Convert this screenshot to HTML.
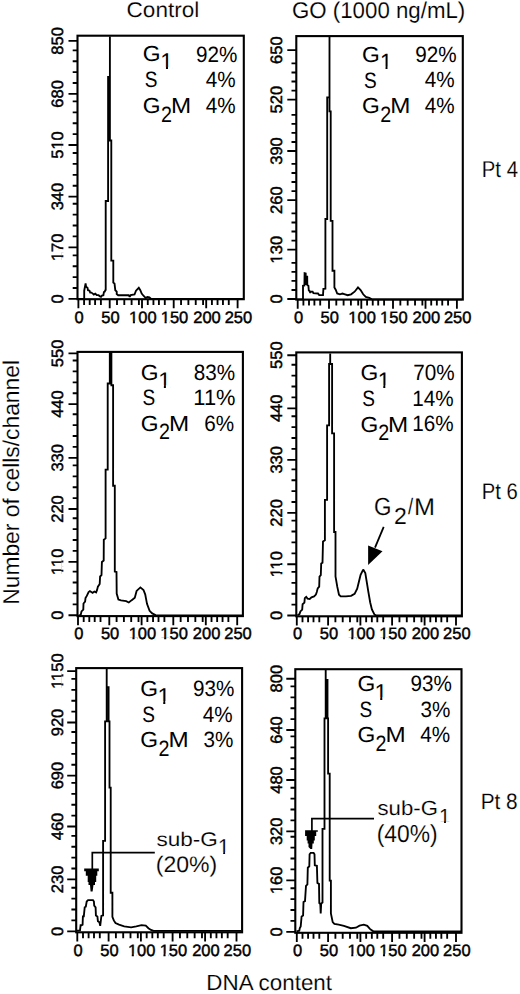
<!DOCTYPE html>
<html><head><meta charset="utf-8"><style>
html,body{margin:0;padding:0;background:#fff;width:520px;height:994px;overflow:hidden}
svg{display:block}
</style></head><body>
<svg width="520" height="994" viewBox="0 0 520 994">
<style>
text{font-family:"Liberation Sans", sans-serif;fill:#000;text-rendering:geometricPrecision}
.ax{font-size:16.5px;stroke:#000;stroke-width:0.45px}
</style>
<rect width="520" height="994" fill="#fff"/>
<path d="M78 299 L84.2 299 L84.2 290.7 L85.6 283.5 L86.1 286.8 L87.5 287.8 L88 290.2 L89.5 290.7 L90.2 292.6 L91.4 292.6 L92.8 293.6 L93.8 294.5 L95.2 293.6 L96.7 295 L98.6 295.2 L100 296.4 L101 296.9 L102 295.5 L103.4 295.2 L103.9 292.1 L104.8 291.6 L105.3 290.2 L105.7 290 L105.7 201 L108.1 201 L108.1 77 L109.9 77 L109.9 36.5 L109.9 140.5 L111.3 140.5 L111.3 260.6 L113.3 260.6 L113.3 282.5 L114.5 283.5 L115.3 290.2 L116.7 291.6 L116.7 294 L118.2 295.2 L128.75 295.2 L129.7 296.9 L130.7 295.2 L134.5 294.5 L136 290.7 L138.8 287.8 L140.3 290.2 L141.7 293.6 L143.7 296 L145.6 297.9 L147.5 296.9 L149.4 297.3 L150.4 298.4 L151.5 299 L243 299" stroke="#000" stroke-width="1.85" fill="none" stroke-linejoin="miter" stroke-miterlimit="2"/>
<rect x="77.5" y="35.7" width="166.3" height="263.5" fill="none" stroke="#000" stroke-width="2.1"/>
<path d="M68.5 298.9H77.5M72.7 288H77.5M72.7 277.1H77.5M72.7 266.2H77.5M72.7 255.3H77.5M68.5 247.3H77.5M72.7 236.4H77.5M72.7 225.5H77.5M72.7 214.6H77.5M72.7 203.7H77.5M68.5 196.6H77.5M72.7 185.7H77.5M72.7 174.8H77.5M72.7 163.9H77.5M72.7 153H77.5M68.5 145H77.5M72.7 134.1H77.5M72.7 123.2H77.5M72.7 112.3H77.5M72.7 101.4H77.5M68.5 93.9H77.5M72.7 83H77.5M72.7 72.1H77.5M72.7 61.2H77.5M72.7 50.3H77.5M68.5 40.9H77.5" stroke="#000" stroke-width="1.85" fill="none"/>
<text x="63.3" y="298.9" transform="rotate(-90 63.3 298.9)" text-anchor="middle" class="ax">0</text>
<text x="63.3" y="247.3" transform="rotate(-90 63.3 247.3)" text-anchor="middle" class="ax">170</text>
<path d="M49.37 245.27H53.36V248.6H49.37ZM55.45 245.27H58.45V248.6H55.45Z" fill="#fff" transform="rotate(-90 63.3 247.3)"/>
<text x="63.3" y="196.6" transform="rotate(-90 63.3 196.6)" text-anchor="middle" class="ax">340</text>
<text x="63.3" y="145" transform="rotate(-90 63.3 145)" text-anchor="middle" class="ax">510</text>
<path d="M58.55 142.97H62.54V146.3H58.55ZM64.62 142.97H67.62V146.3H64.62Z" fill="#fff" transform="rotate(-90 63.3 145)"/>
<text x="63.3" y="93.9" transform="rotate(-90 63.3 93.9)" text-anchor="middle" class="ax">680</text>
<text x="63.3" y="40.9" transform="rotate(-90 63.3 40.9)" text-anchor="middle" class="ax">850</text>
<path d="M78.4 299.2V308.3M84.1 299.2V305.1M89.7 299.2V305.1M95.1 299.2V305.1M100.9 299.2V305.1M109.7 299.2V308.3M117 299.2V305.1M124.3 299.2V305.1M131.6 299.2V305.1M138.9 299.2V305.1M142 299.2V308.3M147.77 299.2V305.1M153.44 299.2V305.1M158.91 299.2V305.1M164.79 299.2V305.1M173.7 299.2V308.3M181.05 299.2V305.1M188.39 299.2V305.1M195.74 299.2V305.1M203.08 299.2V305.1M206.2 299.2V308.3M211.92 299.2V305.1M217.54 299.2V305.1M222.95 299.2V305.1M228.77 299.2V305.1M237.6 299.2V308.3" stroke="#000" stroke-width="1.85" fill="none"/>
<text x="79.2" y="323.1" text-anchor="middle" class="ax">0</text>
<text x="110.5" y="323.1" text-anchor="middle" class="ax">50</text>
<text x="142.8" y="323.1" text-anchor="middle" class="ax">100</text>
<path d="M128.87 321.07H132.86V324.4H128.87ZM134.95 321.07H137.95V324.4H134.95Z" fill="#fff"/>
<text x="174.5" y="323.1" text-anchor="middle" class="ax">150</text>
<path d="M160.57 321.07H164.56V324.4H160.57ZM166.65 321.07H169.65V324.4H166.65Z" fill="#fff"/>
<text x="207" y="323.1" text-anchor="middle" class="ax">200</text>
<text x="238.4" y="323.1" text-anchor="middle" class="ax">250</text>
<path d="M297 299.3 L303 299.3 L303 285.8 L304.4 285.5 L304.6 273.2 L305.7 273.5 L305.8 284 L306.5 284 L306.5 276.6 L307.2 276.6 L307.3 285 L308.4 285.8 L308.8 290.5 L309.5 290.9 L310.3 292.8 L311.1 291.6 L312.6 291.6 L313.4 293.2 L318 293.5 L319.2 295.1 L323 295.1 L323.4 288.9 L325.4 288.7 L325.4 219 L327.2 219 L327.2 97.3 L329.5 97.3 L329.5 37 L329.5 111.4 L330.7 111.4 L330.7 220.8 L332.5 220.8 L332.5 270.7 L334.4 270.7 L334.4 287.4 L335.7 289.7 L337.2 293.5 L339.9 294.3 L342.5 293.5 L345 294.3 L347.7 295.2 L351.1 294.3 L354.6 291.7 L358 287.4 L360.6 290 L363.2 294.3 L365.8 297 L369.3 297.8 L371.9 299.3 L462 299.3" stroke="#000" stroke-width="1.85" fill="none" stroke-linejoin="miter" stroke-miterlimit="2"/>
<rect x="296.3" y="36.1" width="166.5" height="263.5" fill="none" stroke="#000" stroke-width="2.1"/>
<path d="M287.3 299H296.3M291.5 289.95H296.3M291.5 280.9H296.3M291.5 271.85H296.3M291.5 262.8H296.3M287.3 249.6H296.3M291.5 240.55H296.3M291.5 231.5H296.3M291.5 222.45H296.3M291.5 213.4H296.3M287.3 200.1H296.3M291.5 191.05H296.3M291.5 182H296.3M291.5 172.95H296.3M291.5 163.9H296.3M287.3 151H296.3M291.5 141.95H296.3M291.5 132.9H296.3M291.5 123.85H296.3M291.5 114.8H296.3M287.3 99.6H296.3M291.5 90.55H296.3M291.5 81.5H296.3M291.5 72.45H296.3M291.5 63.4H296.3M287.3 50.1H296.3" stroke="#000" stroke-width="1.85" fill="none"/>
<text x="281.9" y="299" transform="rotate(-90 281.9 299)" text-anchor="middle" class="ax">0</text>
<text x="281.9" y="249.6" transform="rotate(-90 281.9 249.6)" text-anchor="middle" class="ax">130</text>
<path d="M267.97 247.57H271.96V250.9H267.97ZM274.05 247.57H277.05V250.9H274.05Z" fill="#fff" transform="rotate(-90 281.9 249.6)"/>
<text x="281.9" y="200.1" transform="rotate(-90 281.9 200.1)" text-anchor="middle" class="ax">260</text>
<text x="281.9" y="151" transform="rotate(-90 281.9 151)" text-anchor="middle" class="ax">390</text>
<text x="281.9" y="99.6" transform="rotate(-90 281.9 99.6)" text-anchor="middle" class="ax">520</text>
<text x="281.9" y="50.1" transform="rotate(-90 281.9 50.1)" text-anchor="middle" class="ax">650</text>
<path d="M297.7 299.6V308.7M303.4 299.6V305.5M309 299.6V305.5M314.4 299.6V305.5M320.2 299.6V305.5M329 299.6V308.7M336.3 299.6V305.5M343.6 299.6V305.5M350.9 299.6V305.5M358.2 299.6V305.5M361.3 299.6V308.7M367.07 299.6V305.5M372.74 299.6V305.5M378.21 299.6V305.5M384.09 299.6V305.5M393 299.6V308.7M400.35 299.6V305.5M407.69 299.6V305.5M415.04 299.6V305.5M422.38 299.6V305.5M425.5 299.6V308.7M431.22 299.6V305.5M436.84 299.6V305.5M442.25 299.6V305.5M448.07 299.6V305.5M456.9 299.6V308.7" stroke="#000" stroke-width="1.85" fill="none"/>
<text x="298.5" y="323.1" text-anchor="middle" class="ax">0</text>
<text x="329.8" y="323.1" text-anchor="middle" class="ax">50</text>
<text x="362.1" y="323.1" text-anchor="middle" class="ax">100</text>
<path d="M348.17 321.07H352.16V324.4H348.17ZM354.25 321.07H357.25V324.4H354.25Z" fill="#fff"/>
<text x="393.8" y="323.1" text-anchor="middle" class="ax">150</text>
<path d="M379.87 321.07H383.86V324.4H379.87ZM385.95 321.07H388.95V324.4H385.95Z" fill="#fff"/>
<text x="426.3" y="323.1" text-anchor="middle" class="ax">200</text>
<text x="457.7" y="323.1" text-anchor="middle" class="ax">250</text>
<path d="M78.5 615.6 L80.7 615 L81.5 611.4 L83.3 609.6 L83.5 603.5 L85.1 601.7 L85.5 598.1 L86.8 595.9 L88.6 592 L89.9 591.1 L91.3 592 L92.6 592.8 L94.4 591.5 L96.1 592.4 L97 590.2 L97.9 586.6 L99.7 584 L100.1 576.5 L101.5 575.1 L101.9 561.9 L103.7 560.5 L103.8 539.7 L105.6 538.4 L105.6 469.6 L107.7 469.6 L107.7 383.5 L109.8 383.5 L109.8 353 L111.4 353 L111.4 385.2 L113.1 385.2 L113.1 485.7 L114.8 485.7 L114.8 571.6 L116.5 572 L116.7 593.5 L118.4 599.5 L121 600.4 L126.2 601.2 L128.8 602.5 L131.4 600.4 L134.8 597.8 L136.6 590.9 L140.4 587.4 L143.5 590 L145.2 594.3 L147 603.8 L149.6 610.8 L152.2 613.4 L155.6 615.1 L242 615.3" stroke="#000" stroke-width="1.85" fill="none" stroke-linejoin="miter" stroke-miterlimit="2"/>
<rect x="77.5" y="351.9" width="165.4" height="264.2" fill="none" stroke="#000" stroke-width="2.1"/>
<path d="M68.5 615.2H77.5M72.7 604.3H77.5M72.7 593.4H77.5M72.7 582.5H77.5M72.7 571.6H77.5M68.5 561.8H77.5M72.7 550.9H77.5M72.7 540H77.5M72.7 529.1H77.5M72.7 518.2H77.5M68.5 509H77.5M72.7 498.1H77.5M72.7 487.2H77.5M72.7 476.3H77.5M72.7 465.4H77.5M68.5 457.8H77.5M72.7 446.9H77.5M72.7 436H77.5M72.7 425.1H77.5M72.7 414.2H77.5M68.5 404.1H77.5M72.7 393.2H77.5M72.7 382.3H77.5M72.7 371.4H77.5M72.7 360.5H77.5M68.5 353.4H77.5" stroke="#000" stroke-width="1.85" fill="none"/>
<text x="63.3" y="615.2" transform="rotate(-90 63.3 615.2)" text-anchor="middle" class="ax">0</text>
<text x="63.3" y="561.8" transform="rotate(-90 63.3 561.8)" text-anchor="middle" class="ax">110</text>
<path d="M49.37 559.77H53.36V563.1H49.37ZM55.45 559.77H58.45V563.1H55.45ZM58.55 559.77H62.54V563.1H58.55ZM64.62 559.77H67.62V563.1H64.62Z" fill="#fff" transform="rotate(-90 63.3 561.8)"/>
<text x="63.3" y="509" transform="rotate(-90 63.3 509)" text-anchor="middle" class="ax">220</text>
<text x="63.3" y="457.8" transform="rotate(-90 63.3 457.8)" text-anchor="middle" class="ax">330</text>
<text x="63.3" y="404.1" transform="rotate(-90 63.3 404.1)" text-anchor="middle" class="ax">440</text>
<text x="63.3" y="353.4" transform="rotate(-90 63.3 353.4)" text-anchor="middle" class="ax">550</text>
<path d="M78 616.1V625.2M83.7 616.1V622M89.3 616.1V622M94.7 616.1V622M100.5 616.1V622M109.3 616.1V625.2M116.6 616.1V622M123.9 616.1V622M131.2 616.1V622M138.5 616.1V622M141.6 616.1V625.2M147.37 616.1V622M153.04 616.1V622M158.51 616.1V622M164.39 616.1V622M173.3 616.1V625.2M180.65 616.1V622M187.99 616.1V622M195.34 616.1V622M202.68 616.1V622M205.8 616.1V625.2M211.52 616.1V622M217.14 616.1V622M222.55 616.1V622M228.37 616.1V622M237.2 616.1V625.2" stroke="#000" stroke-width="1.85" fill="none"/>
<text x="78.8" y="639.3" text-anchor="middle" class="ax">0</text>
<text x="110.1" y="639.3" text-anchor="middle" class="ax">50</text>
<text x="142.4" y="639.3" text-anchor="middle" class="ax">100</text>
<path d="M128.47 637.27H132.46V640.6H128.47ZM134.55 637.27H137.55V640.6H134.55Z" fill="#fff"/>
<text x="174.1" y="639.3" text-anchor="middle" class="ax">150</text>
<path d="M160.17 637.27H164.16V640.6H160.17ZM166.25 637.27H169.25V640.6H166.25Z" fill="#fff"/>
<text x="206.6" y="639.3" text-anchor="middle" class="ax">200</text>
<text x="238" y="639.3" text-anchor="middle" class="ax">250</text>
<path d="M297.5 615.3 L299.5 614.1 L300.4 611.4 L302.2 609.6 L302.6 604.3 L304.4 602.6 L304.8 598.1 L306.2 596.8 L307.5 598.6 L309.7 599 L311.5 597.3 L314.1 596.4 L315.9 594.6 L316.8 592 L317.7 588.4 L319.2 586.6 L319.5 576.5 L320.8 575.1 L321.2 563.6 L322.5 562.7 L323 541.5 L324.9 540.2 L324.9 499.8 L327.1 499.8 L327.1 425.4 L329.1 425.4 L329.1 364 L330.2 364 L330.2 353.5 L330.2 364 L332.1 364 L332.1 433.4 L334.1 433.4 L334.1 532 L335.5 532 L335.5 576.5 L337.3 586.9 L339 594.7 L340.7 596.4 L345.9 596.4 L351.1 595.9 L354.6 593.8 L357.2 588.6 L358.9 581.7 L360.6 574.8 L363.2 569.6 L365.3 573.1 L366.7 581.7 L368.4 592.1 L370.2 602.5 L371.9 609.4 L374.5 614.6 L376 615.3 L461.5 615.3" stroke="#000" stroke-width="1.85" fill="none" stroke-linejoin="miter" stroke-miterlimit="2"/>
<rect x="296.3" y="352.4" width="165.6" height="263.9" fill="none" stroke="#000" stroke-width="2.1"/>
<path d="M287.3 615.5H296.3M291.5 604.6H296.3M291.5 593.7H296.3M291.5 582.8H296.3M291.5 571.9H296.3M287.3 564.2H296.3M291.5 553.3H296.3M291.5 542.4H296.3M291.5 531.5H296.3M291.5 520.6H296.3M287.3 512.9H296.3M291.5 502H296.3M291.5 491.1H296.3M291.5 480.2H296.3M291.5 469.3H296.3M287.3 459.8H296.3M291.5 448.9H296.3M291.5 438H296.3M291.5 427.1H296.3M291.5 416.2H296.3M287.3 408.3H296.3M291.5 397.4H296.3M291.5 386.5H296.3M291.5 375.6H296.3M291.5 364.7H296.3M287.3 355.2H296.3" stroke="#000" stroke-width="1.85" fill="none"/>
<text x="281.9" y="615.5" transform="rotate(-90 281.9 615.5)" text-anchor="middle" class="ax">0</text>
<text x="281.9" y="564.2" transform="rotate(-90 281.9 564.2)" text-anchor="middle" class="ax">110</text>
<path d="M267.97 562.17H271.96V565.5H267.97ZM274.05 562.17H277.05V565.5H274.05ZM277.15 562.17H281.14V565.5H277.15ZM283.22 562.17H286.22V565.5H283.22Z" fill="#fff" transform="rotate(-90 281.9 564.2)"/>
<text x="281.9" y="512.9" transform="rotate(-90 281.9 512.9)" text-anchor="middle" class="ax">220</text>
<text x="281.9" y="459.8" transform="rotate(-90 281.9 459.8)" text-anchor="middle" class="ax">330</text>
<text x="281.9" y="408.3" transform="rotate(-90 281.9 408.3)" text-anchor="middle" class="ax">440</text>
<text x="281.9" y="355.2" transform="rotate(-90 281.9 355.2)" text-anchor="middle" class="ax">550</text>
<path d="M296.8 616.3V625.4M302.5 616.3V622.2M308.1 616.3V622.2M313.5 616.3V622.2M319.3 616.3V622.2M328.1 616.3V625.4M335.4 616.3V622.2M342.7 616.3V622.2M350 616.3V622.2M357.3 616.3V622.2M360.4 616.3V625.4M366.17 616.3V622.2M371.84 616.3V622.2M377.31 616.3V622.2M383.19 616.3V622.2M392.1 616.3V625.4M399.45 616.3V622.2M406.79 616.3V622.2M414.14 616.3V622.2M421.48 616.3V622.2M424.6 616.3V625.4M430.32 616.3V622.2M435.94 616.3V622.2M441.35 616.3V622.2M447.17 616.3V622.2M456 616.3V625.4" stroke="#000" stroke-width="1.85" fill="none"/>
<text x="297.6" y="639.3" text-anchor="middle" class="ax">0</text>
<text x="328.9" y="639.3" text-anchor="middle" class="ax">50</text>
<text x="361.2" y="639.3" text-anchor="middle" class="ax">100</text>
<path d="M347.27 637.27H351.26V640.6H347.27ZM353.35 637.27H356.35V640.6H353.35Z" fill="#fff"/>
<text x="392.9" y="639.3" text-anchor="middle" class="ax">150</text>
<path d="M378.97 637.27H382.96V640.6H378.97ZM385.05 637.27H388.05V640.6H385.05Z" fill="#fff"/>
<text x="425.4" y="639.3" text-anchor="middle" class="ax">200</text>
<text x="456.8" y="639.3" text-anchor="middle" class="ax">250</text>
<path d="M77 930.6 L80 930.4 L80.6 925.2 L81.5 925.2 L82.6 924.6 L82.9 916.3 L83.8 916.3 L84.7 907.3 L85.8 906.7 L86.7 901.5 L87.8 900.4 L88.1 900.1 L93 900.1 L93.9 901.5 L94.2 905.6 L95.6 907.3 L95.9 915.4 L97.4 916.5 L97.9 921.2 L99.4 922.3 L100.2 925.8 L101.4 916 L102.8 915.4 L103.1 915.4 L103.1 840.9 L105.1 840.9 L105.1 721.3 L106.7 721.3 L106.7 669 L106.7 687.1 L108.6 687.1 L108.6 721.3 L109.5 721.3 L109.5 787.6 L110.7 787.6 L110.7 892.7 L112.4 892.7 L112.4 916.9 L113.8 920.4 L115.5 923 L119 924.7 L124.2 926.4 L131.1 927.3 L136.3 926.4 L141.5 925.2 L145.8 925.6 L148.4 928.2 L151 929.9 L153.6 930.8 L241 930.8" stroke="#000" stroke-width="1.85" fill="none" stroke-linejoin="miter" stroke-miterlimit="2"/>
<rect x="76.2" y="668.1" width="165.9" height="264.2" fill="none" stroke="#000" stroke-width="2.1"/>
<path d="M67.2 931.3H76.2M71.4 920.4H76.2M71.4 909.5H76.2M71.4 898.6H76.2M71.4 887.7H76.2M67.2 879.4H76.2M71.4 868.5H76.2M71.4 857.6H76.2M71.4 846.7H76.2M71.4 835.8H76.2M67.2 826.5H76.2M71.4 815.6H76.2M71.4 804.7H76.2M71.4 793.8H76.2M71.4 782.9H76.2M67.2 775.6H76.2M71.4 764.7H76.2M71.4 753.8H76.2M71.4 742.9H76.2M71.4 732H76.2M67.2 722.5H76.2M71.4 711.6H76.2M71.4 700.7H76.2M71.4 689.8H76.2M71.4 678.9H76.2M67.2 671.1H76.2" stroke="#000" stroke-width="1.85" fill="none"/>
<text x="63.3" y="931.3" transform="rotate(-90 63.3 931.3)" text-anchor="middle" class="ax">0</text>
<text x="63.3" y="879.4" transform="rotate(-90 63.3 879.4)" text-anchor="middle" class="ax">230</text>
<text x="63.3" y="826.5" transform="rotate(-90 63.3 826.5)" text-anchor="middle" class="ax">460</text>
<text x="63.3" y="775.6" transform="rotate(-90 63.3 775.6)" text-anchor="middle" class="ax">690</text>
<text x="63.3" y="722.5" transform="rotate(-90 63.3 722.5)" text-anchor="middle" class="ax">920</text>
<text x="63.3" y="671.1" transform="rotate(-90 63.3 671.1)" text-anchor="middle" class="ax">1150</text>
<path d="M44.79 669.07H48.78V672.4H44.79ZM50.86 669.07H53.86V672.4H50.86ZM53.96 669.07H57.95V672.4H53.96ZM60.04 669.07H63.04V672.4H60.04Z" fill="#fff" transform="rotate(-90 63.3 671.1)"/>
<path d="M77.3 932.3V941.4M83 932.3V938.2M88.6 932.3V938.2M94 932.3V938.2M99.8 932.3V938.2M108.6 932.3V941.4M115.9 932.3V938.2M123.2 932.3V938.2M130.5 932.3V938.2M137.8 932.3V938.2M140.9 932.3V941.4M146.67 932.3V938.2M152.34 932.3V938.2M157.81 932.3V938.2M163.69 932.3V938.2M172.6 932.3V941.4M179.95 932.3V938.2M187.29 932.3V938.2M194.64 932.3V938.2M201.98 932.3V938.2M205.1 932.3V941.4M210.82 932.3V938.2M216.44 932.3V938.2M221.85 932.3V938.2M227.67 932.3V938.2M236.5 932.3V941.4" stroke="#000" stroke-width="1.85" fill="none"/>
<text x="78.1" y="955.7" text-anchor="middle" class="ax">0</text>
<text x="109.4" y="955.7" text-anchor="middle" class="ax">50</text>
<text x="141.7" y="955.7" text-anchor="middle" class="ax">100</text>
<path d="M127.77 953.67H131.76V957H127.77ZM133.85 953.67H136.85V957H133.85Z" fill="#fff"/>
<text x="173.4" y="955.7" text-anchor="middle" class="ax">150</text>
<path d="M159.47 953.67H163.46V957H159.47ZM165.55 953.67H168.55V957H165.55Z" fill="#fff"/>
<text x="205.9" y="955.7" text-anchor="middle" class="ax">200</text>
<text x="237.3" y="955.7" text-anchor="middle" class="ax">250</text>
<path d="M296.5 931.3 L299.3 930.7 L299.8 928 L300.7 926.4 L301.6 916.4 L303.1 915.4 L303.5 902 L305 901.1 L306 885.8 L307.4 884.4 L307.8 867.7 L309.3 866.3 L309.6 854.3 L310.7 852.9 L313.6 852.9 L314.5 854.3 L314.8 865.3 L316.9 865.8 L317.4 883 L319 883.9 L319.3 903 L320.3 904 L320.7 913.5 L321.2 903.5 L322.5 902.5 L322.5 828.8 L324.5 828.8 L324.5 718.3 L325.7 718.3 L325.7 670 L325.7 680 L327.5 680 L327.5 718.3 L328.1 718.3 L328.1 773.6 L329.7 773.6 L329.7 880.6 L330.9 880.6 L330.9 913.5 L332.7 922.1 L334.4 923.8 L338.7 924.7 L343.9 925.9 L350.8 928.2 L356 927.7 L359.5 925.6 L363.8 924.7 L367.3 925.9 L369.9 928.9 L372.5 930.8 L374 931.3 L461 931.3" stroke="#000" stroke-width="1.85" fill="none" stroke-linejoin="miter" stroke-miterlimit="2"/>
<rect x="295.3" y="669.2" width="166.2" height="263.6" fill="none" stroke="#000" stroke-width="2.1"/>
<path d="M286.3 931.8H295.3M290.5 920.9H295.3M290.5 910H295.3M290.5 899.1H295.3M290.5 888.2H295.3M286.3 880.3H295.3M290.5 869.4H295.3M290.5 858.5H295.3M290.5 847.6H295.3M290.5 836.7H295.3M286.3 831.3H295.3M290.5 820.4H295.3M290.5 809.5H295.3M290.5 798.6H295.3M290.5 787.7H295.3M286.3 780H295.3M290.5 769.1H295.3M290.5 758.2H295.3M290.5 747.3H295.3M290.5 736.4H295.3M286.3 730H295.3M290.5 719.1H295.3M290.5 708.2H295.3M290.5 697.3H295.3M290.5 686.4H295.3M286.3 678.7H295.3" stroke="#000" stroke-width="1.85" fill="none"/>
<text x="281.9" y="931.8" transform="rotate(-90 281.9 931.8)" text-anchor="middle" class="ax">0</text>
<text x="281.9" y="880.3" transform="rotate(-90 281.9 880.3)" text-anchor="middle" class="ax">160</text>
<path d="M267.97 878.27H271.96V881.6H267.97ZM274.05 878.27H277.05V881.6H274.05Z" fill="#fff" transform="rotate(-90 281.9 880.3)"/>
<text x="281.9" y="831.3" transform="rotate(-90 281.9 831.3)" text-anchor="middle" class="ax">320</text>
<text x="281.9" y="780" transform="rotate(-90 281.9 780)" text-anchor="middle" class="ax">480</text>
<text x="281.9" y="730" transform="rotate(-90 281.9 730)" text-anchor="middle" class="ax">640</text>
<text x="281.9" y="678.7" transform="rotate(-90 281.9 678.7)" text-anchor="middle" class="ax">800</text>
<path d="M296.8 932.8V941.9M302.5 932.8V938.7M308.1 932.8V938.7M313.5 932.8V938.7M319.3 932.8V938.7M328.1 932.8V941.9M335.4 932.8V938.7M342.7 932.8V938.7M350 932.8V938.7M357.3 932.8V938.7M360.4 932.8V941.9M366.17 932.8V938.7M371.84 932.8V938.7M377.31 932.8V938.7M383.19 932.8V938.7M392.1 932.8V941.9M399.45 932.8V938.7M406.79 932.8V938.7M414.14 932.8V938.7M421.48 932.8V938.7M424.6 932.8V941.9M430.32 932.8V938.7M435.94 932.8V938.7M441.35 932.8V938.7M447.17 932.8V938.7M456 932.8V941.9" stroke="#000" stroke-width="1.85" fill="none"/>
<text x="297.6" y="955.7" text-anchor="middle" class="ax">0</text>
<text x="328.9" y="955.7" text-anchor="middle" class="ax">50</text>
<text x="361.2" y="955.7" text-anchor="middle" class="ax">100</text>
<path d="M347.27 953.67H351.26V957H347.27ZM353.35 953.67H356.35V957H353.35Z" fill="#fff"/>
<text x="392.9" y="955.7" text-anchor="middle" class="ax">150</text>
<path d="M378.97 953.67H382.96V957H378.97ZM385.05 953.67H388.05V957H385.05Z" fill="#fff"/>
<text x="425.4" y="955.7" text-anchor="middle" class="ax">200</text>
<text x="456.8" y="955.7" text-anchor="middle" class="ax">250</text>
<text font-size="100" transform="matrix(0.22900 0 0 0.21900 142.86 61.11)">G</text>
<text font-size="100" transform="matrix(0.22754 0 0 0.22754 160.26 69.40)">1</text>
<path d="M160.49 67.01H165.95V70.60H160.49ZM168.00 67.01H172.78V70.60H168.00Z" fill="#fff"/>
<text font-size="100" transform="matrix(0.20700 0 0 0.22200 196.09 61.51)">92%</text>
<text font-size="100" transform="matrix(0.19000 0 0 0.22200 144.78 87.01)">S</text>
<text font-size="100" transform="matrix(0.20700 0 0 0.22200 205.70 87.11)">4%</text>
<text font-size="100" transform="matrix(0.22900 0 0 0.21900 142.86 112.61)">G</text>
<text font-size="100" transform="matrix(0.19700 0 0 0.22200 161.03 121.52)">2</text>
<text font-size="100" transform="matrix(0.24200 0 0 0.21900 170.91 112.86)">M</text>
<text font-size="100" transform="matrix(0.20700 0 0 0.22200 205.70 112.56)">4%</text>
<text font-size="100" transform="matrix(0.22900 0 0 0.21900 362.06 61.81)">G</text>
<text font-size="100" transform="matrix(0.22029 0 0 0.22029 380.01 69.10)">1</text>
<path d="M380.23 66.79H385.52V70.30H380.23ZM387.50 66.79H392.13V70.30H387.50Z" fill="#fff"/>
<text font-size="100" transform="matrix(0.20700 0 0 0.22200 415.24 62.06)">92%</text>
<text font-size="100" transform="matrix(0.19000 0 0 0.22200 363.94 87.61)">S</text>
<text font-size="100" transform="matrix(0.20700 0 0 0.22200 424.80 87.46)">4%</text>
<text font-size="100" transform="matrix(0.22900 0 0 0.21900 362.06 113.21)">G</text>
<text font-size="100" transform="matrix(0.19700 0 0 0.22200 380.33 121.77)">2</text>
<text font-size="100" transform="matrix(0.24200 0 0 0.21900 390.36 113.36)">M</text>
<text font-size="100" transform="matrix(0.20700 0 0 0.22200 424.80 113.46)">4%</text>
<text font-size="100" transform="matrix(0.22900 0 0 0.21900 140.66 379.66)">G</text>
<text font-size="100" transform="matrix(0.22609 0 0 0.22609 158.21 387.50)">1</text>
<path d="M158.44 385.13H163.87V388.70H158.44ZM165.90 385.13H170.65V388.70H165.90Z" fill="#fff"/>
<text font-size="100" transform="matrix(0.20700 0 0 0.22200 193.80 379.76)">83%</text>
<text font-size="100" transform="matrix(0.19000 0 0 0.22200 142.53 405.46)">S</text>
<text font-size="100" transform="matrix(0.21900 0 0 0.22200 193.33 405.31)">11%</text>
<text font-size="100" transform="matrix(0.22900 0 0 0.21900 140.66 431.06)">G</text>
<text font-size="100" transform="matrix(0.19700 0 0 0.22200 159.08 439.17)">2</text>
<text font-size="100" transform="matrix(0.24200 0 0 0.21900 168.91 431.36)">M</text>
<text font-size="100" transform="matrix(0.20700 0 0 0.22200 204.14 430.96)">6%</text>
<text font-size="100" transform="matrix(0.22900 0 0 0.21900 360.41 380.26)">G</text>
<text font-size="100" transform="matrix(0.22464 0 0 0.22464 377.66 387.90)">1</text>
<path d="M377.89 385.54H383.28V389.10H377.89ZM385.30 385.54H390.02V389.10H385.30Z" fill="#fff"/>
<text font-size="100" transform="matrix(0.20700 0 0 0.22200 413.19 380.06)">70%</text>
<text font-size="100" transform="matrix(0.19000 0 0 0.22200 362.13 406.06)">S</text>
<text font-size="100" transform="matrix(0.20700 0 0 0.22200 412.33 405.76)">14%</text>
<text font-size="100" transform="matrix(0.22900 0 0 0.21900 360.41 431.61)">G</text>
<text font-size="100" transform="matrix(0.19700 0 0 0.22200 378.23 440.47)">2</text>
<text font-size="100" transform="matrix(0.24200 0 0 0.21900 387.91 431.86)">M</text>
<text font-size="100" transform="matrix(0.20700 0 0 0.22200 412.33 431.41)">16%</text>
<text font-size="100" transform="matrix(0.22900 0 0 0.21900 140.26 695.71)">G</text>
<text font-size="100" transform="matrix(0.23043 0 0 0.23043 157.47 703.60)">1</text>
<path d="M157.70 701.18H163.23V704.80H157.70ZM165.30 701.18H170.14V704.80H165.30Z" fill="#fff"/>
<text font-size="100" transform="matrix(0.20700 0 0 0.22200 192.94 695.96)">93%</text>
<text font-size="100" transform="matrix(0.19000 0 0 0.22200 142.13 721.61)">S</text>
<text font-size="100" transform="matrix(0.20700 0 0 0.22200 202.80 721.61)">4%</text>
<text font-size="100" transform="matrix(0.22900 0 0 0.21900 140.26 747.16)">G</text>
<text font-size="100" transform="matrix(0.19700 0 0 0.22200 158.43 755.87)">2</text>
<text font-size="100" transform="matrix(0.24200 0 0 0.21900 168.51 747.46)">M</text>
<text font-size="100" transform="matrix(0.20700 0 0 0.22200 203.44 747.01)">3%</text>
<text font-size="100" transform="matrix(0.22900 0 0 0.21900 357.51 691.16)">G</text>
<text font-size="100" transform="matrix(0.23043 0 0 0.23043 374.47 699.80)">1</text>
<path d="M374.70 697.38H380.23V701.00H374.70ZM382.30 697.38H387.14V701.00H382.30Z" fill="#fff"/>
<text font-size="100" transform="matrix(0.20700 0 0 0.22200 410.49 690.96)">93%</text>
<text font-size="100" transform="matrix(0.19000 0 0 0.22200 359.44 716.91)">S</text>
<text font-size="100" transform="matrix(0.20700 0 0 0.22200 420.54 716.61)">3%</text>
<text font-size="100" transform="matrix(0.22900 0 0 0.21900 357.51 742.16)">G</text>
<text font-size="100" transform="matrix(0.19700 0 0 0.22200 375.58 750.77)">2</text>
<text font-size="100" transform="matrix(0.24200 0 0 0.21900 385.51 742.46)">M</text>
<text font-size="100" transform="matrix(0.20700 0 0 0.22200 420.20 742.01)">4%</text>
<text font-size="100" stroke="#fff" stroke-width="0.68" transform="matrix(0.22572 0 0 0.21370 126.57 17.19)">Control</text>
<text font-size="100" stroke="#fff" stroke-width="0.67" transform="matrix(0.22269 0 0 0.22800 291.99 18.00)">GO (1000 ng/mL)</text>
<text font-size="100" stroke="#fff" stroke-width="0.68" transform="matrix(0.22387 0 0 0.21857 206.31 990.08)">DNA content</text>
<text font-size="100" stroke="#fff" stroke-width="0.66" transform="matrix(0 -0.22807 0.22877 0 19.07 604.72)">Number of cells/channel</text>
<text font-size="100" stroke="#fff" stroke-width="0.69" transform="matrix(0.20359 0 0 0.23000 481.77 177.17)">Pt 4</text>
<text font-size="100" stroke="#fff" stroke-width="0.70" transform="matrix(0.20242 0 0 0.22676 481.78 498.87)">Pt 6</text>
<text font-size="100" stroke="#fff" stroke-width="0.70" transform="matrix(0.20788 0 0 0.22254 480.64 809.38)">Pt 8</text>
<text font-size="100" stroke="#fff" stroke-width="0.71" transform="matrix(0.22519 0 0 0.19726 156.52 846.30)">sub-G</text>
<text font-size="100" stroke="#fff" stroke-width="0.70" transform="matrix(0.21449 0 0 0.21449 217.81 854.20)">1</text>
<path d="M218.02 851.95H223.17V855.40H218.02ZM225.10 851.95H229.60V855.40H225.10Z" fill="#fff"/>
<text font-size="100" stroke="#fff" stroke-width="0.66" transform="matrix(0.23020 0 0 0.22473 155.82 872.48)">(20%)</text>
<text font-size="100" stroke="#fff" stroke-width="0.70" transform="matrix(0.22214 0 0 0.20548 377.43 815.49)">sub-G</text>
<text font-size="100" stroke="#fff" stroke-width="0.73" transform="matrix(0.20435 0 0 0.20435 438.95 823.40)">1</text>
<path d="M439.16 821.25H444.06V824.60H439.16ZM445.90 821.25H450.19V824.60H445.90Z" fill="#fff"/>
<text font-size="100" stroke="#fff" stroke-width="0.63" transform="matrix(0.22824 0 0 0.24516 376.73 841.65)">(40%)</text>
<text font-size="100" stroke="#fff" stroke-width="0.63" transform="matrix(0.22462 0 0 0.24789 373.88 515.05)">G</text>
<text font-size="100" stroke="#fff" stroke-width="0.65" transform="matrix(0.23043 0 0 0.23143 394.05 524.00)">2</text>
<text font-size="100" stroke="#fff" stroke-width="0.73" transform="matrix(0.18519 0 0 0.22329 408.00 514.38)">/</text>
<text font-size="100" stroke="#fff" stroke-width="0.61" transform="matrix(0.25224 0 0 0.23913 414.08 514.80)">M</text>
<path d="M383.7 526.9L375 547.7" stroke="#000" stroke-width="1.8"/>
<path d="M368.1 545.4L382.5 551.2L368.1 565Z" fill="#000"/>
<path d="M154.8 852.6H92.3V869" stroke="#000" stroke-width="1.7" fill="none"/>
<path d="M84.2 868.4H98.8V871.2H97.3V875.8H96.2V881.9H95V885H93.5L92.6 891.6H90.6L90 885H88.5V881.9H87.7V875.8H85.8V871.2H84.2Z" fill="#000"/>
<path d="M374 818.7H311.9V831" stroke="#000" stroke-width="1.7" fill="none"/>
<path d="M305.1 830.2H317.8V831.8H316.2V836H314.8V840.6H313.8V843.4H312.5L312.2 848.9H310.4L308.5 847.1V843.4H307.6V840.6H306.7V836H305.1Z" fill="#000"/>
</svg>
</body></html>
